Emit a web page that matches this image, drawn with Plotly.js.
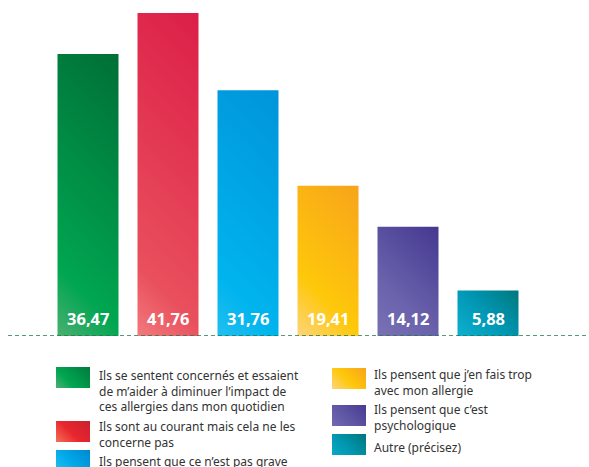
<!DOCTYPE html>
<html>
<head>
<meta charset="utf-8">
<script src="https://cdn.plot.ly/plotly-3.0.1.min.js"></script>
<style>
  html, body { margin: 0; padding: 0; background: #ffffff; }
  #chart { width: 589px; height: 467px; }
</style>
</head>
<body>
<div id="chart"></div>
<script>
// ---------- DATA ----------
const categories = [
  "Ils se sentent concernés et essaient<br>de m’aider à diminuer l’impact de<br>ces allergies dans mon quotidien",
  "Ils sont au courant mais cela ne les<br>concerne pas",
  "Ils pensent que ce n’est pas grave",
  "Ils pensent que j’en fais trop<br>avec mon allergie",
  "Ils pensent que c’est<br>psychologique",
  "Autre (précisez)"
];
const values = [36.47, 41.76, 31.76, 19.41, 14.12, 5.88];
const valueLabels = values.map(v => v.toFixed(2).replace('.', ','));

// ---------- STYLES ----------
const barStops = [
  [[0, '#4caf72'], [0.2, '#00a651'], [1, '#006f36']],
  [[0, '#f27a7e'], [0.18, '#e9505d'], [1, '#dc1e48']],
  [[0, '#22bff0'], [0.2, '#00b4ee'], [1, '#0094da']],
  [[0, '#fdd47c'], [0.3, '#fec80a'], [1, '#f7a41b']],
  [[0, '#7a71b4'], [0.35, '#6a62ac'], [1, '#443890']],
  [[0, '#0eb0d0'], [0.5, '#0096b3'], [1, '#00787d']]
];
const swatchStops = [
  [[0, '#4caf72'], [0.35, '#00a651'], [1, '#007a3d']],
  [[0, '#f37056'], [0.45, '#e8262e'], [1, '#c9202f']],
  [[0, '#22bff0'], [0.45, '#00a9ea'], [1, '#0087cf']],
  [[0, '#fdd47c'], [0.45, '#fec80a'], [1, '#f7a41b']],
  [[0, '#7169b1'], [0.45, '#5f56a4'], [1, '#463b91']],
  [[0, '#0aa9c6'], [0.45, '#0095ad'], [1, '#00757b']]
];
const baseColors = ['#00a651', '#e9505d', '#00b4ee', '#fec80a', '#6a62ac', '#0096b3'];

// legend layout (pixels)
const legX = [56, 56, 56, 332, 332, 332];
const legY = [367, 421, 450, 368, 405, 434];
const legTextX = [99, 99, 99, 374, 374, 374];
const legTextY = [376, 427, 461, 375, 410, 447];
const lineGap = 14.5;
const swW = 34, swH = 21;

const W = 589, H = 467;
const M = {l: 48, r: 61, t: 0, b: 131};
const PW = W - M.l - M.r, PH = H - M.t - M.b;
const px2x = X => (X - M.l) / PW;
const px2y = Y => (M.t + PH - Y) / PH;

const xs = categories.map((c, i) => i);

const trace = {
  type: 'bar',
  x: xs,
  y: values,
  width: 0.7625,
  marker: {color: baseColors, line: {width: 0}},
  hoverinfo: 'skip',
  showlegend: false
};

const shapes = [{
  type: 'line', xref: 'paper', yref: 'y',
  x0: px2x(8), x1: px2x(589), y0: 0, y1: 0,
  line: {color: '#1d7a47', width: 1.5, dash: '4px,3px'},
  layer: 'above'
}];
categories.forEach((c, i) => {
  shapes.push({
    type: 'rect', xref: 'paper', yref: 'paper',
    x0: px2x(legX[i]), x1: px2x(legX[i] + swW),
    y0: px2y(legY[i] + swH), y1: px2y(legY[i]),
    line: {width: 0}, fillcolor: baseColors[i], layer: 'above'
  });
});

const annotations = [];
values.forEach((v, i) => {
  annotations.push({
    x: xs[i], y: 0, xref: 'x', yref: 'y',
    text: '<b>' + valueLabels[i] + '</b>',
    showarrow: false, xanchor: 'center', yanchor: 'middle', yshift: 18,
    font: {family: 'Noto Sans, sans-serif', size: 16.5, color: '#ffffff'}
  });
});
categories.forEach((c, i) => {
  const nLines = c.split('<br>').length;
  const centerY = legTextY[i] + (nLines - 1) * lineGap / 2;
  annotations.push({
    x: 0, y: 0, xref: 'paper', yref: 'paper',
    xshift: legTextX[i] - M.l - 1,
    yshift: (M.t + PH) - centerY,
    text: c, showarrow: false, xanchor: 'left', yanchor: 'middle', align: 'left',
    borderpad: 0,
    font: {family: 'Noto Sans, sans-serif', size: 12, color: '#333333'}
  });
});

const layout = {
  width: W, height: H,
  margin: M,
  paper_bgcolor: '#ffffff', plot_bgcolor: '#ffffff',
  xaxis: {range: [-0.5, 5.5], visible: false, fixedrange: true},
  yaxis: {range: [0, PH / (336 - 13) * 41.76], visible: false, fixedrange: true},
  shapes: shapes,
  annotations: annotations,
  showlegend: false
};

function makeGrad(defs, id, stops, x1, y1, x2, y2) {
  const NS = 'http://www.w3.org/2000/svg';
  const g = document.createElementNS(NS, 'linearGradient');
  g.setAttribute('id', id);
  g.setAttribute('gradientUnits', 'userSpaceOnUse');
  g.setAttribute('x1', x1); g.setAttribute('y1', y1);
  g.setAttribute('x2', x2); g.setAttribute('y2', y2);
  stops.forEach(s => {
    const st = document.createElementNS(NS, 'stop');
    st.setAttribute('offset', s[0]);
    st.setAttribute('stop-color', s[1]);
    g.appendChild(st);
  });
  defs.appendChild(g);
}

function applyGrad(el, id, stops, defs) {
  const b = el.getBBox();
  const D = (b.width + b.height) / 2;
  const x1 = b.x, y1 = b.y + b.height;
  makeGrad(defs, id, stops, x1, y1, x1 + D, y1 - D);
  el.style.fill = 'url(#' + id + ')';
  el.style.fillOpacity = 1;
}

Plotly.newPlot('chart', [trace], layout, {staticPlot: true, displayModeBar: false}).then(gd => {
  const svg = gd.querySelector('.main-svg');
  const NS = 'http://www.w3.org/2000/svg';
  let defs = svg.querySelector('defs');
  if (!defs) { defs = document.createElementNS(NS, 'defs'); svg.insertBefore(defs, svg.firstChild); }
  const bars = gd.querySelectorAll('.barlayer .point path');
  bars.forEach((p, i) => applyGrad(p, 'barGrad' + i, barStops[i], defs));
  categories.forEach((c, i) => {
    const p = gd.querySelector('.shapelayer path[data-index="' + (i + 1) + '"]');
    if (p) applyGrad(p, 'swGrad' + i, swatchStops[i], defs);
  });
});
</script>
</body>
</html>
